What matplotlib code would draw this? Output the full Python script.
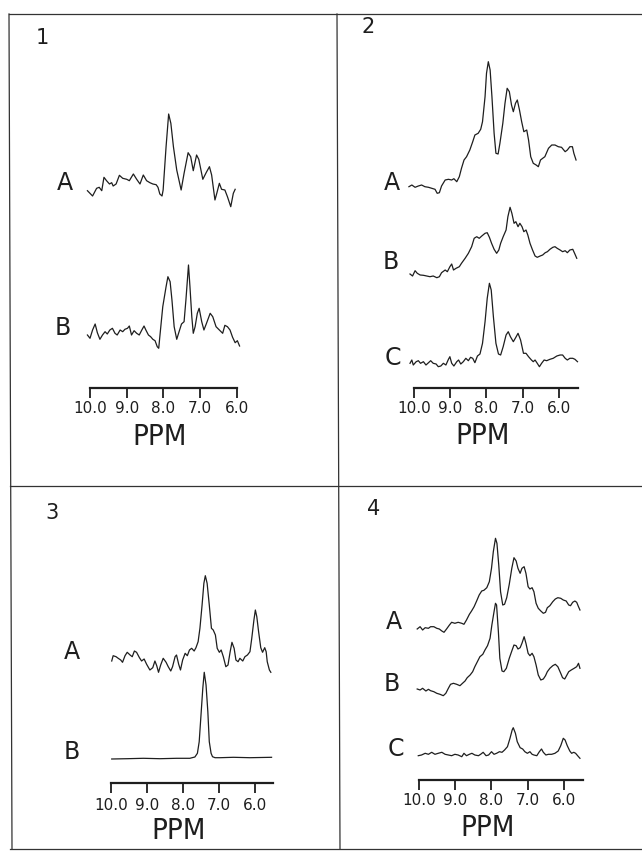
import numpy as np
import matplotlib
matplotlib.use("Agg")
import matplotlib.pyplot as plt
from matplotlib.lines import Line2D

# spectra: chemical shift (ppm) and signal height
p1a_ppm = [10.07, 9.93, 9.82, 9.75, 9.68, 9.62, 9.55, 9.47, 9.41, 9.37, 9.29, 9.20, 9.11, 9.00, 8.93,
           8.82, 8.73, 8.64, 8.55, 8.46, 8.37, 8.29, 8.20, 8.15, 8.10, 8.04, 8.01, 7.93, 7.86, 7.80,
           7.73, 7.64, 7.52, 7.44, 7.33, 7.26, 7.19, 7.10, 7.04, 6.93, 6.84, 6.75, 6.69, 6.60, 6.55,
           6.48, 6.42, 6.33, 6.26, 6.17, 6.10, 6.05]
p1a_sig = [9.3, 4.0, 11.7, 12.7, 9.3, 22.7, 19.3, 16, 17.3, 14, 16, 24.7, 21.7, 20.7, 19.3,
           26, 20.7, 16, 25, 19.3, 17.3, 16, 15.3, 12.7, 6, 4, 10, 53.3, 86, 76.7,
           53.3, 30, 10, 26.7, 47.3, 43.3, 29.3, 45, 40.7, 20.7, 27.3, 33.3, 25, 0, 6.7,
           16.7, 10.7, 10, 3.3, -6.7, 6.7, 10.7]

p1b_ppm = [10.07, 10.00, 9.93, 9.86, 9.80, 9.73, 9.66, 9.59, 9.53, 9.46, 9.39, 9.32, 9.26, 9.18, 9.11,
           9.05, 8.98, 8.93, 8.87, 8.80, 8.73, 8.66, 8.59, 8.53, 8.48, 8.41, 8.35, 8.29, 8.23, 8.17,
           8.13, 8.10, 8.02, 7.93, 7.88, 7.82, 7.77, 7.71, 7.64, 7.59, 7.51, 7.44, 7.39, 7.35, 7.32,
           7.28, 7.23, 7.19, 7.14, 7.08, 7.03, 6.96, 6.90, 6.83, 6.73, 6.66, 6.57, 6.48, 6.39, 6.33,
           6.26, 6.19, 6.12, 6.05, 5.99, 5.93]
p1b_sig = [10, 6.7, 15, 21, 12.3, 5.7, 10, 13.3, 11, 15, 16.7, 11.7, 10, 15, 13.3,
           15.7, 16.7, 19, 10, 14.3, 11.7, 10, 15, 19, 15, 10, 8.3, 5.7, 4.3, -1.7,
           -3.3, 8.3, 38.3, 58.3, 68.3, 63.3, 45, 18.3, 5.7, 11.7, 21, 23.3, 45, 65, 80,
           58.3, 28.3, 11.7, 18.3, 31.7, 36.7, 23.3, 15, 21.7, 31.7, 28.3, 18.3, 15, 11.7, 19.7,
           18.3, 15, 7.7, 2.3, 4.3, -1]

p2a_ppm = [10.14, 10.06, 9.97, 9.88, 9.79, 9.70, 9.60, 9.51, 9.42, 9.36, 9.30, 9.24, 9.14, 9.05, 8.96,
           8.90, 8.82, 8.75, 8.69, 8.62, 8.55, 8.46, 8.38, 8.32, 8.23, 8.16, 8.11, 8.04, 8.00, 7.95,
           7.90, 7.85, 7.79, 7.74, 7.68, 7.63, 7.55, 7.49, 7.43, 7.37, 7.31, 7.26, 7.20, 7.15, 7.09,
           7.03, 6.97, 6.89, 6.84, 6.78, 6.71, 6.63, 6.57, 6.51, 6.45, 6.39, 6.29, 6.20, 6.11, 6.02,
           5.93, 5.83, 5.77, 5.70, 5.63, 5.59, 5.53]
p2a_sig = [8.3, 10, 7.7, 9, 10, 8.3, 7.7, 6.7, 5.7, 1.7, 2.3, 9, 15, 15.7, 15,
           16.3, 13.3, 18.3, 26.7, 35, 38.3, 45, 53.3, 60, 61.7, 65.7, 73.3, 98.3, 121.7, 133.3,
           125, 98.3, 61.7, 41.7, 41, 51.7, 71.7, 91.7, 106.7, 103.3, 90, 83.3, 91.7, 95, 85,
           73.3, 63.3, 65, 55, 38.3, 31.7, 30, 28.3, 35, 36.7, 38.3, 46.7, 50, 50, 48.3,
           47.7, 43.3, 45, 48.3, 48.3, 41.7, 35]

p2b_ppm = [10.11, 10.04, 9.97, 9.91, 9.83, 9.74, 9.65, 9.56, 9.47, 9.37, 9.30, 9.24, 9.14, 9.08, 9.01,
           8.96, 8.91, 8.84, 8.75, 8.69, 8.59, 8.50, 8.41, 8.34, 8.27, 8.20, 8.13, 8.04, 7.98, 7.92,
           7.86, 7.79, 7.72, 7.66, 7.61, 7.54, 7.46, 7.41, 7.35, 7.30, 7.24, 7.19, 7.13, 7.08, 7.02,
           6.97, 6.91, 6.86, 6.80, 6.73, 6.66, 6.60, 6.52, 6.45, 6.38, 6.32, 6.25, 6.17, 6.11, 6.05,
           5.97, 5.90, 5.83, 5.77, 5.70, 5.62, 5.57, 5.51]
p2b_sig = [11, 9, 14.3, 11.7, 10, 9.7, 9, 8.3, 9, 7.3, 8.3, 12.3, 15, 13.3, 18.3,
           21, 15, 16.7, 18.3, 21.7, 26.7, 31.7, 38.3, 46.7, 48.3, 46.7, 49, 51.7, 52.3, 47.7,
           41.7, 35.7, 31.7, 35, 41.7, 48.3, 55, 68.3, 77.7, 71.7, 61.7, 63.3, 58.3, 61.7, 58.3,
           53.3, 55, 50, 41.7, 35, 29, 27.7, 29, 30, 32.3, 33.3, 35.7, 37.7, 38.3, 36.7,
           35, 33.3, 34.3, 32.3, 35, 35.7, 31.7, 26.7]

p2c_ppm = [10.11, 10.06, 10.02, 9.94, 9.88, 9.82, 9.74, 9.67, 9.60, 9.54, 9.47, 9.39, 9.33, 9.26, 9.19,
           9.12, 9.05, 9.01, 8.96, 8.90, 8.82, 8.77, 8.71, 8.64, 8.57, 8.50, 8.44, 8.38, 8.32, 8.25,
           8.18, 8.11, 8.04, 7.98, 7.92, 7.87, 7.81, 7.74, 7.67, 7.61, 7.54, 7.46, 7.40, 7.34, 7.26,
           7.19, 7.13, 7.06, 6.98, 6.91, 6.84, 6.76, 6.71, 6.66, 6.60, 6.54, 6.48, 6.41, 6.34, 6.25,
           6.16, 6.06, 5.97, 5.90, 5.83, 5.77, 5.70, 5.62, 5.56, 5.49]
p2c_sig = [11.7, 15, 10, 13.3, 14.3, 11.7, 13.3, 10, 12.3, 14.3, 11.7, 11, 8.3, 9, 11.7,
           10, 15.7, 18.3, 11.7, 9, 13.3, 15, 11, 13.3, 16.7, 14.3, 17.7, 16.7, 12.3, 19,
           21, 31.7, 53.3, 76.7, 91.7, 85, 58.3, 31.7, 21, 20, 28.3, 40, 43.3, 38.3, 33.3,
           37.7, 41.7, 35, 21.7, 21.7, 18.3, 15, 13.3, 15, 11.7, 8.3, 11.7, 15, 14.3, 15.7,
           16.7, 19, 20, 20, 16.7, 15, 16.7, 16.7, 15.7, 13.3]

p3a_ppm = [9.98, 9.94, 9.86, 9.80, 9.73, 9.68, 9.61, 9.55, 9.47, 9.41, 9.35, 9.29, 9.21, 9.15, 9.08,
           9.01, 8.92, 8.84, 8.78, 8.73, 8.68, 8.62, 8.55, 8.47, 8.41, 8.34, 8.29, 8.22, 8.18, 8.12,
           8.07, 8.01, 7.94, 7.88, 7.82, 7.76, 7.69, 7.64, 7.58, 7.53, 7.47, 7.42, 7.38, 7.33, 7.27,
           7.21, 7.16, 7.10, 7.05, 6.99, 6.94, 6.88, 6.81, 6.75, 6.69, 6.64, 6.58, 6.53, 6.47, 6.42,
           6.34, 6.28, 6.21, 6.14, 6.09, 6.03, 5.99, 5.95, 5.90, 5.84, 5.79, 5.73, 5.69, 5.66, 5.60,
           5.56]
p3a_sig = [14, 19.3, 18.3, 16.7, 15, 12.7, 19.3, 22.7, 20, 18.3, 24, 22.7, 17.3, 14, 16,
           10.7, 5, 7.3, 14, 9.3, 2.7, 10, 16.7, 12.7, 8.3, 4, 8.3, 18.3, 20, 10.7,
           5, 15, 21.7, 19.3, 25, 26.7, 24, 27.3, 33.3, 46.7, 70, 91.7, 99.3, 91.7, 70,
           46.7, 45, 40, 26.7, 22.7, 25, 18.3, 8.3, 10, 23.3, 32.7, 26.7, 15, 13.3, 16.7,
           14, 18.3, 20, 23.3, 36.7, 55, 65, 58.3, 43.3, 27.3, 22.7, 27.3, 23.3, 13.3, 5,
           2.7]

p3b_ppm = [9.98, 9.55, 9.10, 8.64, 8.18, 7.81, 7.67, 7.60, 7.55, 7.50, 7.45, 7.41, 7.36, 7.31, 7.27,
           7.22, 7.18, 7.11, 6.97, 6.60, 6.14, 5.54]
p3b_sig = [6, 6.3, 6.7, 6.3, 6.7, 6.7, 8, 11.7, 23.3, 50, 76.7, 92.7, 80, 53.3, 23.3,
           11.7, 8.3, 7.3, 7.3, 7.7, 7.3, 7.7]

p4a_ppm = [10.05, 9.97, 9.90, 9.83, 9.74, 9.68, 9.59, 9.51, 9.44, 9.37, 9.31, 9.24, 9.16, 9.10, 9.01,
           8.92, 8.82, 8.76, 8.69, 8.61, 8.55, 8.48, 8.41, 8.34, 8.27, 8.21, 8.13, 8.06, 8.00, 7.95,
           7.89, 7.85, 7.80, 7.75, 7.69, 7.64, 7.58, 7.51, 7.44, 7.38, 7.32, 7.27, 7.21, 7.16, 7.10,
           7.05, 6.99, 6.94, 6.88, 6.83, 6.77, 6.71, 6.64, 6.57, 6.51, 6.46, 6.39, 6.31, 6.24, 6.17,
           6.09, 6.02, 5.94, 5.87, 5.82, 5.76, 5.70, 5.65, 5.60, 5.56]
p4a_sig = [11, 13.3, 10, 12.3, 11.7, 13.3, 13.3, 11.7, 11, 9, 7.7, 11, 15, 17.7, 16.7,
           17.7, 16.7, 15.7, 20, 25.7, 29, 33.3, 39, 45, 49, 49.7, 52.3, 58.3, 71.7, 88.3,
           101.7, 96.7, 75, 48.3, 35, 35.7, 42.3, 55.7, 71.7, 82.3, 79, 71.7, 66.7, 71.7, 73.3,
           66.7, 53.3, 51, 52.3, 48.3, 36.7, 31.7, 29, 26.7, 27.7, 32.3, 34.3, 38.3, 41, 42.3,
           41.7, 40, 39, 35, 34.3, 37.7, 39, 37.7, 33.3, 30]

p4b_ppm = [10.05, 9.97, 9.90, 9.81, 9.74, 9.68, 9.59, 9.51, 9.42, 9.33, 9.26, 9.19, 9.13, 9.05, 8.96,
           8.87, 8.80, 8.73, 8.67, 8.59, 8.52, 8.46, 8.39, 8.32, 8.24, 8.18, 8.11, 8.04, 7.99, 7.93,
           7.89, 7.86, 7.81, 7.77, 7.71, 7.66, 7.59, 7.51, 7.44, 7.38, 7.32, 7.27, 7.21, 7.16, 7.10,
           7.05, 6.99, 6.94, 6.88, 6.83, 6.77, 6.71, 6.64, 6.57, 6.51, 6.46, 6.39, 6.31, 6.24, 6.17,
           6.09, 6.04, 5.98, 5.93, 5.87, 5.80, 5.72, 5.65, 5.60, 5.56]
p4b_sig = [11, 10, 11.7, 9, 10.7, 9.3, 8.3, 6.7, 5.7, 4.3, 6.7, 11.7, 15.7, 16.7, 15.7,
           14.3, 16.7, 19, 22.3, 25, 28.3, 33.3, 38.3, 43.3, 45.7, 50, 54.3, 61.7, 75, 88.3,
           96.7, 95, 68.3, 41.7, 29, 28.3, 31.7, 41.7, 49, 55, 54.3, 51, 52.3, 56.7, 63.3,
           56.7, 46.7, 44.3, 46.7, 43.3, 35, 25, 20, 21, 24.3, 28.3, 31.7, 34.3, 35.7, 33.3,
           26.7, 22.3, 21, 24.3, 28.3, 30, 31.7, 33.3, 36.7, 31.7]

p4c_ppm = [10.02, 9.93, 9.83, 9.74, 9.65, 9.56, 9.47, 9.37, 9.28, 9.19, 9.10, 9.01, 8.92, 8.82, 8.76,
           8.69, 8.61, 8.54, 8.46, 8.36, 8.30, 8.23, 8.15, 8.08, 8.00, 7.93, 7.86, 7.78, 7.71, 7.64,
           7.56, 7.49, 7.43, 7.40, 7.34, 7.29, 7.21, 7.14, 7.08, 7.01, 6.94, 6.88, 6.83, 6.75, 6.68,
           6.62, 6.57, 6.50, 6.43, 6.34, 6.25, 6.16, 6.09, 6.02, 5.97, 5.91, 5.84, 5.79, 5.73, 5.68,
           5.60, 5.56]
p4c_sig = [9.3, 10, 11.7, 10.7, 12.7, 10.7, 11.7, 12.7, 10.7, 10, 9.3, 10.7, 10, 8.3, 11.7,
           9.3, 10.7, 11.7, 10, 9.3, 10.7, 12.7, 9.3, 10, 13.3, 10.7, 11.7, 13.3, 12.7, 15,
           18.3, 26.7, 35, 37.3, 31.7, 23.3, 17.3, 16, 13.3, 11.7, 13.3, 10.7, 10, 9.3, 13.3,
           16, 12.7, 10, 10.7, 10.7, 11.7, 14, 19.3, 26.7, 25, 19.3, 14, 11.7, 12.7, 11.7,
           8.3, 6.7]

panel_names = ["1", "2", "3", "4"]
ppm_ticks = [10.0, 9.0, 8.0, 7.0, 6.0]

W, H = 642, 851
fig = plt.figure(figsize=(W / 100, H / 100), dpi=100)
ink = "#1e1e1e"


def fx(x):
    return x / W


def fy(y):
    return 1 - y / H


def make_panel(box, x10, scale, axis_y, axis_end, label_pad):
    # box is the panel area in pixels (left, top, right, bottom)
    xl, yt, xr, yb = box
    ax = fig.add_axes([fx(xl), fy(yb), (xr - xl) / W, (yb - yt) / H])
    ax.patch.set_alpha(0)
    ax.set_xlim(10 + (x10 - xl) / scale, 10 - (xr - x10) / scale)
    ax.set_ylim(0, yb - yt)
    for s in ["top", "left", "right"]:
        ax.spines[s].set_visible(False)
    ax.spines["bottom"].set_position(("data", yb - axis_y))
    ax.spines["bottom"].set_bounds(axis_end, 10.0)
    ax.spines["bottom"].set_linewidth(1.6)
    ax.spines["bottom"].set_color(ink)
    ax.set_yticks([])
    ax.set_xticks(ppm_ticks)
    ax.set_xticklabels(["%.1f" % t for t in ppm_ticks])
    ax.tick_params(axis="x", direction="out", length=7, width=1.3, color=ink,
                   labelsize=11, pad=label_pad, labelcolor=ink)
    return ax, yb


def trace(ax, yb, ppm, sig, ref_y, lw=0.9):
    ax.plot(ppm, np.array(sig) + (yb - ref_y), color=ink, lw=lw)


# panel 1
ax1, b1 = make_panel((10, 14, 338, 486), 90, 36.75, 388, 6.0, 2.5)
trace(ax1, b1, p1a_ppm, p1a_sig, 200)
trace(ax1, b1, p1b_ppm, p1b_sig, 345)

# panel 2
ax2, b2 = make_panel((338, 14, 640, 486), 414, 36.25, 388, 5.48, 2.5)
trace(ax2, b2, p2a_ppm, p2a_sig, 195)
trace(ax2, b2, p2b_ppm, p2b_sig, 285)
trace(ax2, b2, p2c_ppm, p2c_sig, 375)

# panel 3
ax3, b3 = make_panel((10, 486, 338, 848), 111, 36.0, 783, 5.5, 4)
trace(ax3, b3, p3a_ppm, p3a_sig, 675)
trace(ax3, b3, p3b_ppm, p3b_sig, 765)

# panel 4
ax4, b4 = make_panel((338, 486, 640, 848), 419, 36.25, 780, 5.48, 2.5)
trace(ax4, b4, p4a_ppm, p4a_sig, 640)
trace(ax4, b4, p4b_ppm, p4b_sig, 700)
trace(ax4, b4, p4c_ppm, p4c_sig, 765)

# frame lines of the 2x2 layout (no right edge in the scan)
frame = [((9, 642), (14, 14)), ((10, 642), (486, 486)), ((10, 642), (849, 849)),
         ((9, 12), (14, 849)), ((337, 340), (14, 849))]
for xs, ys in frame:
    fig.add_artist(Line2D([fx(xs[0]), fx(xs[1])], [fy(ys[0]), fy(ys[1])],
                          color="#333333", lw=0.9))

# panel numbers, trace letters and axis titles
num_pos = [(42, 38), (368, 27), (52, 513), (374, 509)]
for name, (x, y) in zip(panel_names, num_pos):
    fig.text(fx(x), fy(y), name, fontsize=15, ha="center", va="center", color=ink)

letters = [("A", 65, 183), ("B", 63, 328),
           ("A", 392, 183), ("B", 391, 262), ("C", 393, 358),
           ("A", 72, 652), ("B", 72, 752),
           ("A", 394, 622), ("B", 392, 684), ("C", 396, 749)]
for t, x, y in letters:
    fig.text(fx(x), fy(y), t, fontsize=17, ha="center", va="center", color=ink)

for x, y in [(160, 437), (483, 436), (179, 831), (488, 828)]:
    fig.text(fx(x), fy(y), "PPM", fontsize=21, fontstretch="condensed",
             ha="center", va="center", color=ink)

fig.savefig("out.png", dpi=100, facecolor="white")
